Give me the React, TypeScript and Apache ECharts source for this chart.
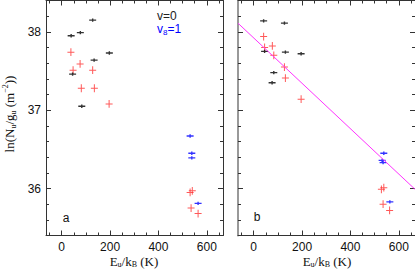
import React, { useEffect, useRef } from "react";
import * as echarts from "echarts";

const xMajor = [0, 200, 400, 600];
const xMinor = [-50, 50, 100, 150, 250, 300, 350, 450, 500, 550, 650];
const yMajor = [36, 37, 38];
const yMinor = [35.4, 35.6, 35.8, 36.2, 36.4, 36.6, 36.8, 37.2, 37.4, 37.6, 37.8, 38.2];

const leftBlack = [[39, 37.95], [77, 37.99], [128, 38.15], [197, 37.73], [134, 37.64], [45, 37.46], [83, 37.05]];
const leftRed = [[38, 37.74], [76, 37.59], [47, 37.51], [128, 37.51], [81, 37.28], [135, 37.28], [196, 37.08], [540, 35.97], [531, 35.95], [535, 35.75], [564, 35.68]];
const leftBlue = [[531, 36.67], [538, 36.45], [538, 36.39], [564, 35.81]];
const rightBlack = [[41, 38.14], [127, 38.11], [45, 37.75], [131, 37.74], [196, 37.72], [83, 37.48], [76, 37.35]];
const rightRed = [[41, 37.94], [45, 37.8], [77, 37.82], [83, 37.7], [127, 37.55], [131, 37.41], [196, 37.14], [538, 36.01], [528, 35.99], [535, 35.8], [562, 35.72]];
const rightBlue = [[538, 36.45], [531, 36.36], [535, 36.33], [563, 35.83]];
const fitLine = [[-65, 38.11], [667, 35.99]];

const X_MIN = -65, X_MAX = 667, Y_MIN = 35.4, Y_MAX = 38.4;
const SANS = "Liberation Sans";
const SERIF = "Liberation Serif";

const plusThin = "path://M0,3.4L7,3.4L7,4.4L0,4.4Z M3,0L4,0L4,7.8L3,7.8Z";
const plusFlat = "path://M0,1L7,1L7,2.3L0,2.3Z M2.8,0L4.2,0L4.2,3.3L2.8,3.3Z";

export default function App() {
  const ref = useRef<HTMLDivElement>(null);
  useEffect(() => {
    if (!ref.current) return;
    const chart = echarts.init(ref.current, null, { renderer: "svg" });
    const grids = [
      { left: 46, top: 0.5, width: 177, height: 235 },
      { left: 238, top: 0.5, width: 178, height: 235 },
    ];
    const xAxes: any[] = [];
    const yAxes: any[] = [];
    grids.forEach((_, g) => {
      const lineColor = "#333";
      ["bottom", "top"].forEach((pos) => {
        xAxes.push({
          gridIndex: g, type: "value", min: X_MIN, max: X_MAX, position: pos,
          axisLine: { show: true, onZero: false, lineStyle: { color: lineColor, width: 1 } },
          axisTick: { show: true, inside: true, length: 5, customValues: xMajor, lineStyle: { color: lineColor } },
          axisLabel: pos === "bottom"
            ? { show: true, customValues: xMajor, margin: 5, fontSize: 12, fontFamily: SANS, color: "#111" }
            : { show: false },
          splitLine: { show: false },
        });
        xAxes.push({
          gridIndex: g, type: "value", min: X_MIN, max: X_MAX, position: pos,
          axisLine: { show: false, onZero: false },
          axisTick: { show: true, inside: true, length: 3, customValues: xMinor, lineStyle: { color: lineColor } },
          axisLabel: { show: false },
          splitLine: { show: false },
        });
      });
      ["left", "right"].forEach((pos) => {
        const isGrayEdge = g === 1 && pos === "left";
        yAxes.push({
          gridIndex: g, type: "value", min: Y_MIN, max: Y_MAX, position: pos,
          axisLine: { show: true, onZero: false, lineStyle: { color: isGrayEdge ? "#999" : lineColor, width: isGrayEdge ? 2 : 1 } },
          axisTick: { show: true, inside: true, length: 5, customValues: yMajor, lineStyle: { color: lineColor } },
          axisLabel: g === 0 && pos === "left"
            ? { show: true, customValues: yMajor, margin: 5, fontSize: 12, fontFamily: SANS, color: "#111" }
            : { show: false },
          splitLine: { show: false },
        });
        yAxes.push({
          gridIndex: g, type: "value", min: Y_MIN, max: Y_MAX, position: pos,
          axisLine: { show: false, onZero: false },
          axisTick: { show: true, inside: true, length: 3, customValues: yMinor, lineStyle: { color: lineColor } },
          axisLabel: { show: false },
          splitLine: { show: false },
        });
      });
    });
    const sc = (g: number, data: number[][], color: string, sym: string, size: number[]) => ({
      type: "scatter", xAxisIndex: g * 4, yAxisIndex: g * 4, data,
      symbol: sym, symbolSize: size, itemStyle: { color }, silent: true,
    });
    chart.setOption({
      animation: false,
      grid: grids,
      xAxis: xAxes,
      yAxis: yAxes,
      series: [
        sc(0, leftRed, "#ff3030", plusThin, [7, 7.8]),
        sc(0, leftBlack, "#000", plusFlat, [7, 3.3]),
        sc(0, leftBlue, "#0000ff", plusFlat, [7, 3.3]),
        sc(1, rightRed, "#ff3030", plusThin, [7, 7.8]),
        sc(1, rightBlack, "#000", plusFlat, [7, 3.3]),
        sc(1, rightBlue, "#0000ff", plusFlat, [7, 3.3]),
        {
          type: "line", xAxisIndex: 4, yAxisIndex: 4, data: fitLine, showSymbol: false,
          lineStyle: { color: "#ff33ff", width: 1 }, silent: true, clip: true,
        },
      ],
      graphic: [
        {
          type: "text", x: 9, y: 114, rotation: Math.PI / 2,
          style: {
            text: "{m|ln(N}{s|u}{m|/g}{s|u}{m| (m}{p|−2}{m|))}",
            fontFamily: SERIF, fontSize: 13, fill: "#111", align: "center", verticalAlign: "middle",
            rich: {
              m: { fontFamily: SERIF, fontSize: 13, verticalAlign: "middle", lineHeight: 16, fill: "#111" },
              s: { fontFamily: SERIF, fontSize: 8, verticalAlign: "bottom", lineHeight: 16, fill: "#111" },
              p: { fontFamily: SERIF, fontSize: 8, verticalAlign: "top", lineHeight: 16, fill: "#111" },
            },
          },
        },
        ...[134, 327].map((cx) => ({
          type: "text", x: cx, y: 261,
          style: {
            text: "{m|E}{s|u}{m|/k}{s|B}{m| (K)}",
            fontFamily: SERIF, fontSize: 13, fill: "#111", align: "center", verticalAlign: "middle",
            rich: {
              m: { fontFamily: SERIF, fontSize: 13, verticalAlign: "middle", lineHeight: 14, fill: "#111" },
              s: { fontFamily: SERIF, fontSize: 8, verticalAlign: "bottom", lineHeight: 14, fill: "#111" },
            },
          },
        })),
        { type: "text", x: 157, y: 16, style: { text: "v=0", fontFamily: SANS, fontSize: 12, fill: "#222", verticalAlign: "middle" } },
        {
          type: "text", x: 157, y: 29,
          style: {
            text: "{m|v}{s|8}{m|=1}", fontFamily: SANS, fontSize: 12, fill: "#0000ff", verticalAlign: "middle",
            rich: {
              m: { fontFamily: SANS, fontSize: 12, verticalAlign: "middle", lineHeight: 15, fill: "#0000ff" },
              s: { fontFamily: SANS, fontSize: 8, verticalAlign: "bottom", lineHeight: 15, fill: "#0000ff" },
            },
          },
        },
        { type: "text", x: 66, y: 218, style: { text: "a", fontFamily: SANS, fontSize: 12, fill: "#111", align: "center", verticalAlign: "middle" } },
        { type: "text", x: 257, y: 217, style: { text: "b", fontFamily: SANS, fontSize: 12, fill: "#111", align: "center", verticalAlign: "middle" } },
      ],
    });
    return () => chart.dispose();
  }, []);
  return <div ref={ref} style={{ width: 415, height: 269, position: "fixed", left: 0, top: 0, background: "#fff" }} />;
}
